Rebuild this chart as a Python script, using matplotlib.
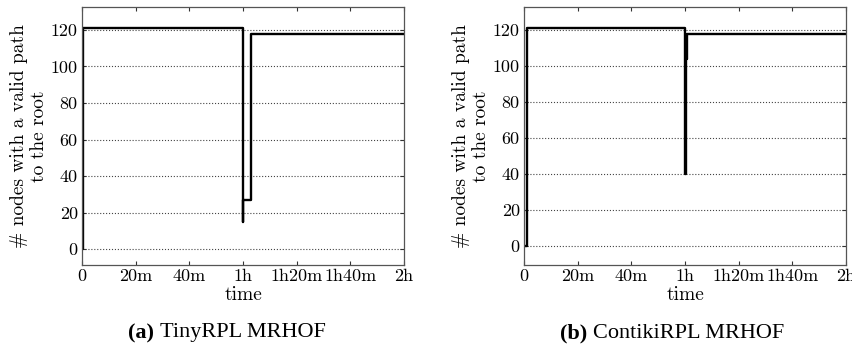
import numpy as np
import matplotlib
matplotlib.use('Agg')
import matplotlib.pyplot as plt

plt.rcParams['font.family'] = ['cmr10']
plt.rcParams['axes.unicode_minus'] = False

# time in minutes, number of nodes with a valid path to the root
t_tiny = [0, 0.3, 60.0, 60.15, 63.0, 120]
n_tiny = [0, 121, 15, 27, 118, 118]

t_contiki = [0, 1.0, 60.0, 60.25, 60.6, 120]
n_contiki = [0, 121, 40, 104, 118, 118]

xticks = [0, 20, 40, 60, 80, 100, 120]
xlabels = ['0', '20m', '40m', '1h', '1h20m', '1h40m', '2h']
yticks = [0, 20, 40, 60, 80, 100, 120]

W, H = 853, 349
fig = plt.figure(figsize=(W/100, H/100), dpi=100)

def panel(left, t, n, ylim):
    ax = fig.add_axes([left/W, (H-265)/H, 322/W, 258/H])
    ax.step(t, n, where='post', color='black', lw=1.7)
    ax.set_xlim(0, 120)
    ax.set_ylim(*ylim)
    ax.set_xticks(xticks)
    ax.set_xticklabels(xlabels)
    ax.set_yticks(yticks)
    ax.yaxis.grid(True, linestyle=':', color='#444444', lw=0.8)
    ax.tick_params(direction='in', top=True, right=True, labelsize=13,
                   length=3, color='#333333', pad=3)
    for s in ax.spines.values():
        s.set_color('#555555')
        s.set_linewidth(0.9)
    ax.set_xlabel('time', fontsize=14, labelpad=1)
    ax.set_ylabel('# nodes with a valid path\nto the root', fontsize=14,
                  labelpad=2, linespacing=1.15)
    return ax

panel(82, t_tiny, n_tiny, (-8.6, 132.5))
panel(524, t_contiki, n_contiki, (-10.7, 132.8))

def caption(xc, tag, name):
    fig.text(xc, 16/H, tag + ' ', fontsize=16, fontweight='bold',
             family='Liberation Serif', ha='right', va='center')
    fig.text(xc, 16/H, name, fontsize=16, family='Liberation Serif',
             ha='left', va='center')

caption(160/W, '(a)', 'TinyRPL MRHOF')
caption(593/W, '(b)', 'ContikiRPL MRHOF')

fig.savefig('out.png', dpi=100)
